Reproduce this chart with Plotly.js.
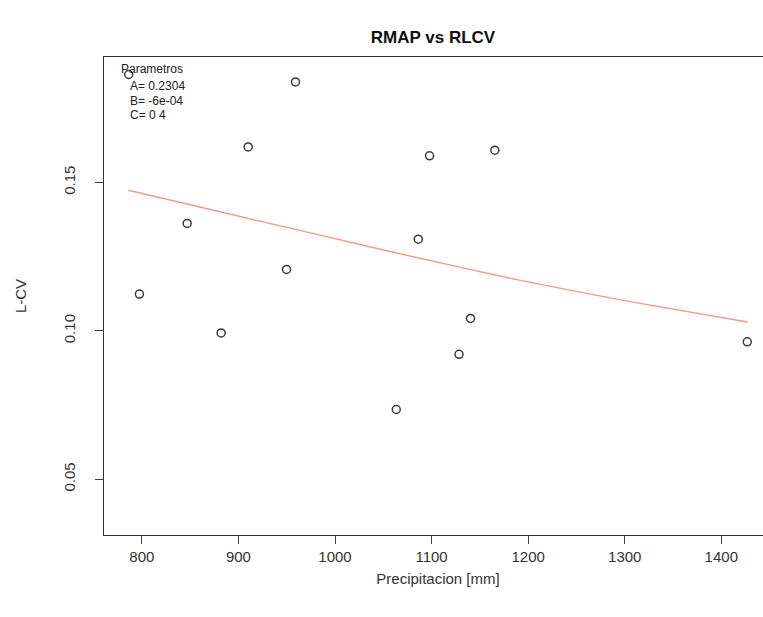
<!DOCTYPE html>
<html>
<head>
<meta charset="utf-8">
<script src="https://cdn.plot.ly/plotly-3.0.1.min.js"></script>
<style>
  html, body { margin: 0; padding: 0; overflow: hidden; background: #fff; }
  #chart { width: 780px; height: 617px; }
</style>
</head>
<body>
<div id="chart"></div>
<script>
// Observed stations: mean annual precipitation (mm) vs L-CV
const precipitacion = [786.4, 797.5, 846.9, 910.1, 882.1, 949.8, 959.1, 1097.9, 1165.5, 1086.2, 1140.3, 1128.4, 1063.4, 1426.9];
const lcv = [0.1864, 0.1124, 0.1362, 0.1620, 0.0993, 0.1207, 0.1839, 0.1590, 0.1609, 0.1309, 0.1042, 0.0921, 0.0735, 0.0963];

// Fitted curve
const fitX = [786, 892, 1047, 1130, 1192, 1300, 1427];
const fitY = [0.1474, 0.1393, 0.1275, 0.1214, 0.1170, 0.1102, 0.1030];

// Text / tick labels
const chartTitle = 'RMAP vs RLCV';
const xTitle = 'Precipitacion [mm]';
const yTitle = 'L-CV';
const xTicks = [800, 900, 1000, 1100, 1200, 1300, 1400];
const yTicks = [0.05, 0.10, 0.15];
const legendLines = ['Parametros', 'A= 0.2304', 'B= -6e-04', 'C= 0 4'];

const font = 'Liberation Sans, Arial, sans-serif';

const traces = [
  {
    x: fitX, y: fitY, type: 'scatter', mode: 'lines',
    line: { color: '#F19C88', width: 1.4, shape: 'spline', smoothing: 0.6 },
    hoverinfo: 'skip'
  },
  {
    x: precipitacion, y: lcv, type: 'scatter', mode: 'markers',
    marker: { symbol: 'circle-open', size: 8, color: '#3a3a3a', line: { width: 1.5, color: '#3a3a3a' } }
  }
];

const legendX = [776.1, 786.0, 786.0, 786.0];
const legendY = [0.1884, 0.1824, 0.1774, 0.1727];
const annotations = legendLines.map((t, i) => ({
  text: t, x: legendX[i], y: legendY[i], xref: 'x', yref: 'y',
  xanchor: 'left', yanchor: 'middle', showarrow: false,
  font: { family: font, size: 12, color: '#222' }
}));

const layout = {
  width: 780, height: 617,
  margin: { l: 104, r: 8, t: 57, b: 82 },
  paper_bgcolor: '#fff', plot_bgcolor: '#fff',
  showlegend: false,
  title: {
    text: '<b>' + chartTitle + '</b>',
    font: { family: font, size: 17, color: '#111' },
    x: 433 / 780, xref: 'container', xanchor: 'center',
    y: 1 - 37 / 617, yref: 'container', yanchor: 'middle'
  },
  xaxis: {
    range: [760.8, 1452.5],
    tickvals: xTicks, ticktext: xTicks.map(String),
    ticks: 'outside', ticklen: 8, tickcolor: '#444', tickwidth: 1,
    showgrid: false, zeroline: false,
    showline: true, mirror: true, linecolor: '#333', linewidth: 1,
    tickfont: { family: font, size: 15, color: '#333' },
    title: { text: xTitle, font: { family: font, size: 15, color: '#333' }, standoff: 9 }
  },
  yaxis: {
    range: [0.0312, 0.1923],
    tickvals: yTicks, ticktext: yTicks.map(v => v.toFixed(2)),
    tickangle: -90,
    ticks: 'outside', ticklen: 8, tickcolor: '#444', tickwidth: 1,
    ticklabelstandoff: 14,
    showgrid: false, zeroline: false,
    showline: true, mirror: true, linecolor: '#333', linewidth: 1,
    tickfont: { family: font, size: 15, color: '#333' },
    title: { text: yTitle, font: { family: font, size: 15, color: '#333' }, standoff: 30 }
  },
  annotations: annotations
};

Plotly.newPlot('chart', traces, layout, { displayModeBar: false, staticPlot: true });
</script>
</body>
</html>
